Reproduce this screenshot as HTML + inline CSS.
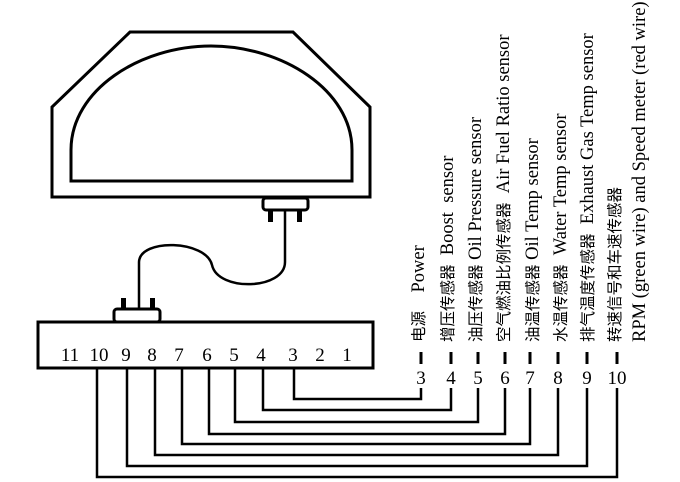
<!DOCTYPE html>
<html><head><meta charset="utf-8"><style>
html,body{margin:0;padding:0;background:#fff;width:680px;height:482px;overflow:hidden}
svg text{font-family:"Liberation Serif","Noto Sans CJK SC",serif;fill:#000;white-space:pre}
.n{font-family:"Liberation Sans","DejaVu Sans",sans-serif;font-size:19px}
.c{font-family:"Noto Sans CJK SC",sans-serif;font-size:15.5px}
</style></head><body>
<svg width="680" height="482" viewBox="0 0 680 482" xmlns="http://www.w3.org/2000/svg" xml:space="preserve">
<g fill="none" stroke="#000" stroke-width="3">
<polygon points="130,32 293,32 370,107 370,197 52,197 52,107"/>
<path d="M71,181 L71,150 C71,90 140,46 211,46 C282,46 352,90 352,150 L352,181 Z"/>
<rect x="263" y="198" width="45" height="12" rx="3"/>
<path d="M285,211 L285,262 C285,290 218,292 212,265 C206,240 140,238 139,262 L139,308" stroke-width="2.5"/>
<rect x="114" y="309" width="46" height="13" rx="3"/>
<rect x="38" y="322" width="335" height="46"/>
</g>
<g fill="#000">
<rect x="268" y="210" width="5" height="12"/><rect x="297" y="210" width="5" height="12"/>
<rect x="121" y="298" width="5" height="11"/><rect x="150" y="298" width="5" height="11"/>
</g>
<g class="n" text-anchor="middle">
<text x="70" y="361">11</text><text x="99" y="361">10</text><text x="126" y="361">9</text>
<text x="152" y="361">8</text><text x="179" y="361">7</text><text x="207" y="361">6</text>
<text x="234" y="361">5</text><text x="261" y="361">4</text><text x="293" y="361">3</text>
<text x="320" y="361">2</text><text x="347" y="361">1</text>
<text x="421" y="384">3</text><text x="451" y="384">4</text><text x="478" y="384">5</text>
<text x="505" y="384">6</text><text x="530" y="384">7</text><text x="558" y="384">8</text>
<text x="587" y="384">9</text><text x="617" y="384">10</text>
</g>
<g fill="none" stroke="#000" stroke-width="3">
<path d="M421,352V364M451,352V364M478,352V364M505,352V364M530,352V364M558,352V364M587,352V364M617,352V364"/>
</g>
<g fill="none" stroke="#000" stroke-width="2.5">
<path d="M294,368V399H421V388"/>
<path d="M263,368V410H451V388"/>
<path d="M235,368V422H478V388"/>
<path d="M209,368V434H505V388"/>
<path d="M182,368V444H530V388"/>
<path d="M155,368V455H558V388"/>
<path d="M127,368V466H587V388"/>
<path d="M97,368V477H617V388"/>
</g>
<g font-size="18.5">
<text transform="translate(424,342) rotate(-90)"><tspan class="c">电源</tspan>    Power</text>
<text transform="translate(453,342) rotate(-90)"><tspan class="c">增压传感器</tspan>  Boost  sensor</text>
<text transform="translate(481,342) rotate(-90)"><tspan class="c">油压传感器</tspan> Oil Pressure sensor</text>
<text transform="translate(509,342) rotate(-90)"><tspan class="c">空气燃油比例传感器</tspan>  Air Fuel Ratio sensor</text>
<text transform="translate(538,342) rotate(-90)"><tspan class="c">油温传感器</tspan> Oil Temp sensor</text>
<text transform="translate(566,342) rotate(-90)"><tspan class="c">水温传感器</tspan>  Water Temp sensor</text>
<text transform="translate(593,342) rotate(-90)"><tspan class="c">排气温度传感器</tspan>  Exhaust Gas Temp sensor</text>
<text transform="translate(620,342) rotate(-90)" class="c">转速信号和车速传感器</text>
<text transform="translate(645,342) rotate(-90)">RPM (green wire) and Speed meter (red wire)</text>
</g>
</svg>
</body></html>
